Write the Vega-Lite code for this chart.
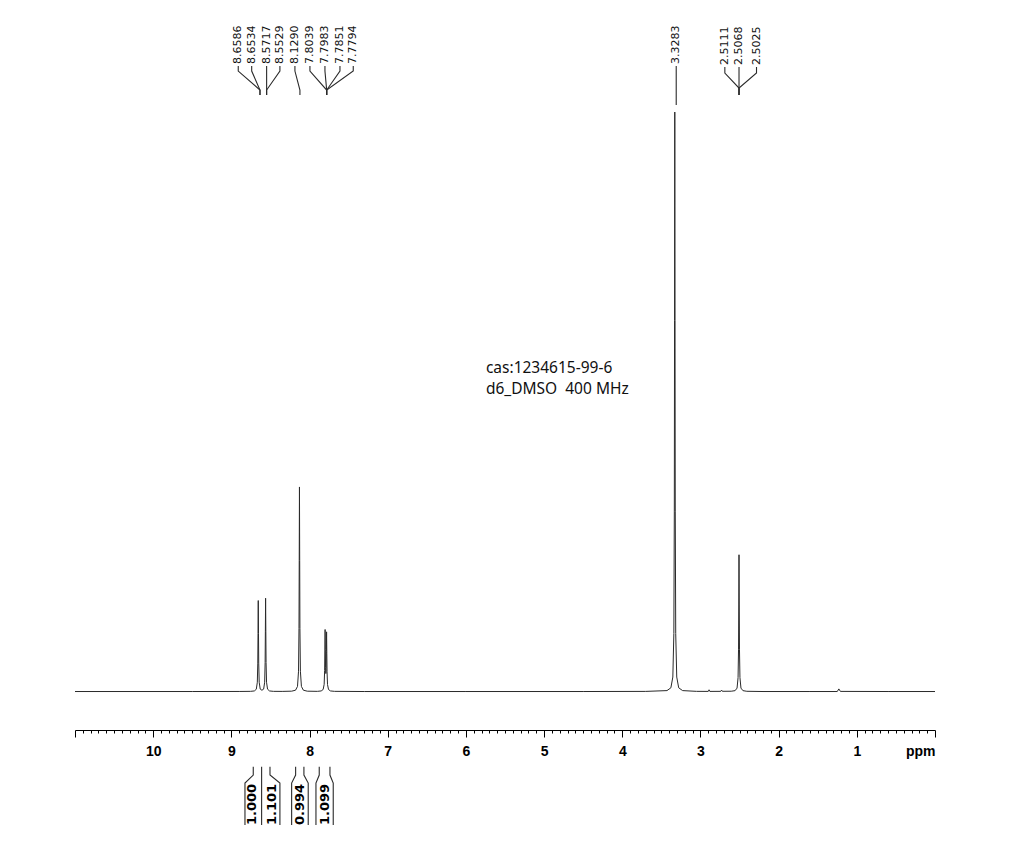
{
  "$schema": "https://vega.github.io/schema/vega-lite/v6.json",
  "autosize": "none",
  "width": 860,
  "height": 730,
  "padding": {"left": 75, "top": 0, "right": 74, "bottom": 130},
  "background": "white",
  "config": {"view": {"stroke": null}},
  "datasets": {
    "spectrum": [
      {"ppm": 11.0, "y": 0}, {"ppm": 9.5, "y": 0}, {"ppm": 8.9, "y": 0.01},
      {"ppm": 8.756, "y": 0.03}, {"ppm": 8.706, "y": 0.1}, {"ppm": 8.681, "y": 0.39}, {"ppm": 8.668, "y": 1.6}, {"ppm": 8.662, "y": 4.9}, {"ppm": 8.659, "y": 10}, {"ppm": 8.656, "y": 15.7}, {"ppm": 8.653, "y": 10}, {"ppm": 8.65, "y": 4.9}, {"ppm": 8.644, "y": 1.6}, {"ppm": 8.631, "y": 0.42}, {"ppm": 8.609, "y": 0.22},
      {"ppm": 8.587, "y": 0.42}, {"ppm": 8.574, "y": 1.6}, {"ppm": 8.568, "y": 5.0}, {"ppm": 8.565, "y": 10.3}, {"ppm": 8.562, "y": 16.1}, {"ppm": 8.559, "y": 10.3}, {"ppm": 8.556, "y": 5.0}, {"ppm": 8.55, "y": 1.6}, {"ppm": 8.537, "y": 0.4}, {"ppm": 8.512, "y": 0.1}, {"ppm": 8.462, "y": 0.03}, {"ppm": 8.35, "y": 0.02},
      {"ppm": 8.229, "y": 0.06}, {"ppm": 8.179, "y": 0.23}, {"ppm": 8.154, "y": 0.88}, {"ppm": 8.141, "y": 3.5}, {"ppm": 8.135, "y": 10.9}, {"ppm": 8.132, "y": 22.6}, {"ppm": 8.129, "y": 35.3}, {"ppm": 8.126, "y": 22.6}, {"ppm": 8.123, "y": 10.9}, {"ppm": 8.117, "y": 3.5}, {"ppm": 8.104, "y": 0.88}, {"ppm": 8.079, "y": 0.23}, {"ppm": 8.029, "y": 0.06},
      {"ppm": 7.9, "y": 0.03}, {"ppm": 7.851, "y": 0.1}, {"ppm": 7.826, "y": 0.35}, {"ppm": 7.813, "y": 1.24}, {"ppm": 7.807, "y": 3.6}, {"ppm": 7.804, "y": 7.0}, {"ppm": 7.801, "y": 10.7}, {"ppm": 7.798, "y": 7.2}, {"ppm": 7.795, "y": 4.1}, {"ppm": 7.7915, "y": 3.1}, {"ppm": 7.788, "y": 4.0}, {"ppm": 7.785, "y": 6.9}, {"ppm": 7.782, "y": 10.3}, {"ppm": 7.779, "y": 6.6}, {"ppm": 7.776, "y": 3.4}, {"ppm": 7.77, "y": 1.2}, {"ppm": 7.757, "y": 0.34}, {"ppm": 7.732, "y": 0.1}, {"ppm": 7.68, "y": 0.03},
      {"ppm": 7.3, "y": 0}, {"ppm": 6.0, "y": 0}, {"ppm": 4.5, "y": 0}, {"ppm": 3.7, "y": 0.02},
      {"ppm": 3.4283, "y": 0.16}, {"ppm": 3.3783, "y": 0.64}, {"ppm": 3.3533, "y": 2.5}, {"ppm": 3.3403, "y": 10}, {"ppm": 3.3343, "y": 31}, {"ppm": 3.3313, "y": 64}, {"ppm": 3.3283, "y": 100}, {"ppm": 3.3253, "y": 64}, {"ppm": 3.3223, "y": 31}, {"ppm": 3.3163, "y": 10}, {"ppm": 3.3033, "y": 2.5}, {"ppm": 3.2783, "y": 0.64}, {"ppm": 3.2283, "y": 0.16},
      {"ppm": 3.05, "y": 0.03}, {"ppm": 2.9, "y": 0.02}, {"ppm": 2.89, "y": 0.3}, {"ppm": 2.88, "y": 0.02}, {"ppm": 2.74, "y": 0.03}, {"ppm": 2.73, "y": 0.25}, {"ppm": 2.72, "y": 0.04},
      {"ppm": 2.6068, "y": 0.05}, {"ppm": 2.5568, "y": 0.15}, {"ppm": 2.5318, "y": 0.59}, {"ppm": 2.5188, "y": 2.4}, {"ppm": 2.5128, "y": 7.3}, {"ppm": 2.5098, "y": 15.1}, {"ppm": 2.5068, "y": 23.6}, {"ppm": 2.5038, "y": 15.1}, {"ppm": 2.5008, "y": 7.3}, {"ppm": 2.4948, "y": 2.4}, {"ppm": 2.4818, "y": 0.59}, {"ppm": 2.4568, "y": 0.15}, {"ppm": 2.4068, "y": 0.04},
      {"ppm": 2.2, "y": 0}, {"ppm": 1.6, "y": 0}, {"ppm": 1.25, "y": 0}, {"ppm": 1.23, "y": 0.45}, {"ppm": 1.21, "y": 0.02}, {"ppm": 0.6, "y": 0}, {"ppm": 0.0, "y": 0}
    ],
    "paths": [
      {"id": "a1", "o": 1, "ppm": 8.912, "y": 107.94}, {"id": "a1", "o": 2, "ppm": 8.912, "y": 107.07}, {"id": "a1", "o": 3, "ppm": 8.634, "y": 103.79}, {"id": "a1", "o": 4, "ppm": 8.634, "y": 102.93},
      {"id": "a2", "o": 1, "ppm": 8.74, "y": 107.94}, {"id": "a2", "o": 2, "ppm": 8.74, "y": 107.07}, {"id": "a2", "o": 3, "ppm": 8.634, "y": 103.79}, {"id": "a2", "o": 4, "ppm": 8.634, "y": 102.93},
      {"id": "a3", "o": 1, "ppm": 8.549, "y": 107.94}, {"id": "a3", "o": 2, "ppm": 8.549, "y": 107.07}, {"id": "a3", "o": 3, "ppm": 8.549, "y": 103.79}, {"id": "a3", "o": 4, "ppm": 8.549, "y": 102.93},
      {"id": "a4", "o": 1, "ppm": 8.379, "y": 107.94}, {"id": "a4", "o": 2, "ppm": 8.379, "y": 107.07}, {"id": "a4", "o": 3, "ppm": 8.549, "y": 103.79}, {"id": "a4", "o": 4, "ppm": 8.549, "y": 102.93},
      {"id": "a5", "o": 1, "ppm": 8.187, "y": 107.94}, {"id": "a5", "o": 2, "ppm": 8.187, "y": 107.07}, {"id": "a5", "o": 3, "ppm": 8.123, "y": 103.79}, {"id": "a5", "o": 4, "ppm": 8.123, "y": 102.93},
      {"id": "a6", "o": 1, "ppm": 7.995, "y": 107.94}, {"id": "a6", "o": 2, "ppm": 7.995, "y": 107.07}, {"id": "a6", "o": 3, "ppm": 7.781, "y": 103.79}, {"id": "a6", "o": 4, "ppm": 7.781, "y": 102.93},
      {"id": "a7", "o": 1, "ppm": 7.803, "y": 107.94}, {"id": "a7", "o": 2, "ppm": 7.803, "y": 107.07}, {"id": "a7", "o": 3, "ppm": 7.781, "y": 103.79}, {"id": "a7", "o": 4, "ppm": 7.781, "y": 102.93},
      {"id": "a8", "o": 1, "ppm": 7.611, "y": 107.94}, {"id": "a8", "o": 2, "ppm": 7.611, "y": 107.07}, {"id": "a8", "o": 3, "ppm": 7.781, "y": 103.79}, {"id": "a8", "o": 4, "ppm": 7.781, "y": 102.93},
      {"id": "a9", "o": 1, "ppm": 7.441, "y": 107.94}, {"id": "a9", "o": 2, "ppm": 7.441, "y": 107.07}, {"id": "a9", "o": 3, "ppm": 7.781, "y": 103.79}, {"id": "a9", "o": 4, "ppm": 7.781, "y": 102.93},
      {"id": "s1", "o": 1, "ppm": 3.31, "y": 107.94}, {"id": "s1", "o": 2, "ppm": 3.31, "y": 101.2},
      {"id": "d1", "o": 1, "ppm": 2.688, "y": 107.77}, {"id": "d1", "o": 2, "ppm": 2.688, "y": 106.73}, {"id": "d1", "o": 3, "ppm": 2.5068, "y": 104.14}, {"id": "d1", "o": 4, "ppm": 2.5068, "y": 102.93},
      {"id": "d2", "o": 1, "ppm": 2.5068, "y": 107.77}, {"id": "d2", "o": 2, "ppm": 2.5068, "y": 102.93},
      {"id": "d3", "o": 1, "ppm": 2.283, "y": 107.77}, {"id": "d3", "o": 2, "ppm": 2.283, "y": 106.73}, {"id": "d3", "o": 3, "ppm": 2.5068, "y": 104.14}, {"id": "d3", "o": 4, "ppm": 2.5068, "y": 102.93},
      {"id": "b1", "o": 1, "ppm": 8.72, "y": -12.98}, {"id": "b1", "o": 2, "ppm": 8.72, "y": -14.41}, {"id": "b1", "o": 3, "ppm": 8.826, "y": -15.79}, {"id": "b1", "o": 4, "ppm": 8.826, "y": -23.04},
      {"id": "b2", "o": 1, "ppm": 8.613, "y": -12.98}, {"id": "b2", "o": 2, "ppm": 8.613, "y": -23.04},
      {"id": "b3", "o": 1, "ppm": 8.506, "y": -12.98}, {"id": "b3", "o": 2, "ppm": 8.506, "y": -14.41}, {"id": "b3", "o": 3, "ppm": 8.379, "y": -15.79}, {"id": "b3", "o": 4, "ppm": 8.379, "y": -23.04},
      {"id": "b4", "o": 1, "ppm": 8.178, "y": -12.98}, {"id": "b4", "o": 2, "ppm": 8.178, "y": -14.41}, {"id": "b4", "o": 3, "ppm": 8.229, "y": -15.79}, {"id": "b4", "o": 4, "ppm": 8.229, "y": -23.04},
      {"id": "b5", "o": 1, "ppm": 8.072, "y": -12.98}, {"id": "b5", "o": 2, "ppm": 8.072, "y": -14.41}, {"id": "b5", "o": 3, "ppm": 8.017, "y": -15.79}, {"id": "b5", "o": 4, "ppm": 8.017, "y": -23.04},
      {"id": "b6", "o": 1, "ppm": 7.876, "y": -12.98}, {"id": "b6", "o": 2, "ppm": 7.876, "y": -14.41}, {"id": "b6", "o": 3, "ppm": 7.918, "y": -15.79}, {"id": "b6", "o": 4, "ppm": 7.918, "y": -23.04},
      {"id": "b7", "o": 1, "ppm": 7.739, "y": -12.98}, {"id": "b7", "o": 2, "ppm": 7.739, "y": -14.41}, {"id": "b7", "o": 3, "ppm": 7.697, "y": -15.79}, {"id": "b7", "o": 4, "ppm": 7.697, "y": -23.04}
    ],
    "peaklabels": [
      {"ppm": 8.912, "y": 108.28, "label": "8.6586"},
      {"ppm": 8.74, "y": 108.28, "label": "8.6534"},
      {"ppm": 8.549, "y": 108.28, "label": "8.5717"},
      {"ppm": 8.379, "y": 108.28, "label": "8.5529"},
      {"ppm": 8.187, "y": 108.28, "label": "8.1290"},
      {"ppm": 7.995, "y": 108.28, "label": "7.8039"},
      {"ppm": 7.803, "y": 108.28, "label": "7.7983"},
      {"ppm": 7.611, "y": 108.28, "label": "7.7851"},
      {"ppm": 7.441, "y": 108.28, "label": "7.7794"},
      {"ppm": 3.31, "y": 108.28, "label": "3.3283"},
      {"ppm": 2.688, "y": 108.1, "label": "2.5111"},
      {"ppm": 2.5068, "y": 108.1, "label": "2.5068"},
      {"ppm": 2.283, "y": 108.1, "label": "2.5025"}
    ],
    "integrals": [
      {"ppm": 8.74, "y": -23.04, "label": "1.000"},
      {"ppm": 8.485, "y": -23.04, "label": "1.101"},
      {"ppm": 8.123, "y": -23.04, "label": "0.994"},
      {"ppm": 7.803, "y": -23.04, "label": "1.099"}
    ],
    "notes": [
      {"ppm": 5.744, "y": 54.9, "label": "cas:1234615-99-6"},
      {"ppm": 5.744, "y": 51.3, "label": "d6_DMSO\u00a0 400 MHz"}
    ]
  },
  "encoding": {
    "x": {
      "field": "ppm", "type": "quantitative",
      "scale": {"domain": [0, 11], "reverse": true, "nice": false, "zero": false},
      "axis": {
        "values": [0,0.1,0.2,0.3,0.4,0.5,0.6,0.7,0.8,0.9,1,1.1,1.2,1.3,1.4,1.5,1.6,1.7,1.8,1.9,2,2.1,2.2,2.3,2.4,2.5,2.6,2.7,2.8,2.9,3,3.1,3.2,3.3,3.4,3.5,3.6,3.7,3.8,3.9,4,4.1,4.2,4.3,4.4,4.5,4.6,4.7,4.8,4.9,5,5.1,5.2,5.3,5.4,5.5,5.6,5.7,5.8,5.9,6,6.1,6.2,6.3,6.4,6.5,6.6,6.7,6.8,6.9,7,7.1,7.2,7.3,7.4,7.5,7.6,7.7,7.8,7.9,8,8.1,8.2,8.3,8.4,8.5,8.6,8.7,8.8,8.9,9,9.1,9.2,9.3,9.4,9.5,9.6,9.7,9.8,9.9,10,10.1,10.2,10.3,10.4,10.5,10.6,10.7,10.8,10.9,11],
        "title": null,
        "grid": false,
        "domainColor": "#000",
        "domainWidth": 1,
        "tickColor": "#000",
        "tickWidth": 1,
        "tickSize": {"condition": {"test": "datum.value % 1 === 0", "value": 7}, "value": 3},
        "labelExpr": "datum.value === 0 ? 'ppm' : ((datum.value % 1 === 0 && datum.value < 11) ? '' + datum.value : '')",
        "labelAlign": {"condition": {"test": "datum.value === 0", "value": "right"}, "value": "center"},
        "labelBaseline": "top",
        "labelFont": "Liberation Sans",
        "labelFontWeight": "bold",
        "labelFontSize": 14,
        "labelColor": "#000",
        "labelPadding": 7,
        "labelOverlap": false,
        "labelFlush": false,
        "labelBound": false
      }
    },
    "y": {
      "field": "y", "type": "quantitative",
      "scale": {"domain": [-6.64, 119.33], "nice": false, "zero": false},
      "axis": null
    }
  },
  "layer": [
    {
      "data": {"name": "spectrum"},
      "mark": {"type": "line", "color": "#2a2a2a", "strokeWidth": 1, "interpolate": "linear"}
    },
    {
      "data": {"name": "paths"},
      "mark": {"type": "line", "color": "#2a2a2a", "strokeWidth": 1.1},
      "encoding": {
        "detail": {"field": "id"},
        "order": {"field": "o", "type": "quantitative"}
      }
    },
    {
      "data": {"name": "peaklabels"},
      "mark": {"type": "text", "angle": 270, "align": "left", "baseline": "middle", "font": "DejaVu Sans", "fontSize": 11, "color": "#111"},
      "encoding": {"text": {"field": "label"}}
    },
    {
      "data": {"name": "integrals"},
      "mark": {"type": "text", "angle": 270, "align": "left", "baseline": "middle", "font": "DejaVu Sans", "fontWeight": "bold", "fontSize": 13, "color": "#000"},
      "encoding": {"text": {"field": "label"}}
    },
    {
      "data": {"name": "notes"},
      "mark": {"type": "text", "align": "left", "baseline": "alphabetic", "font": "Noto Sans", "fontSize": 15.5, "color": "#111"},
      "encoding": {"text": {"field": "label"}}
    }
  ]
}
